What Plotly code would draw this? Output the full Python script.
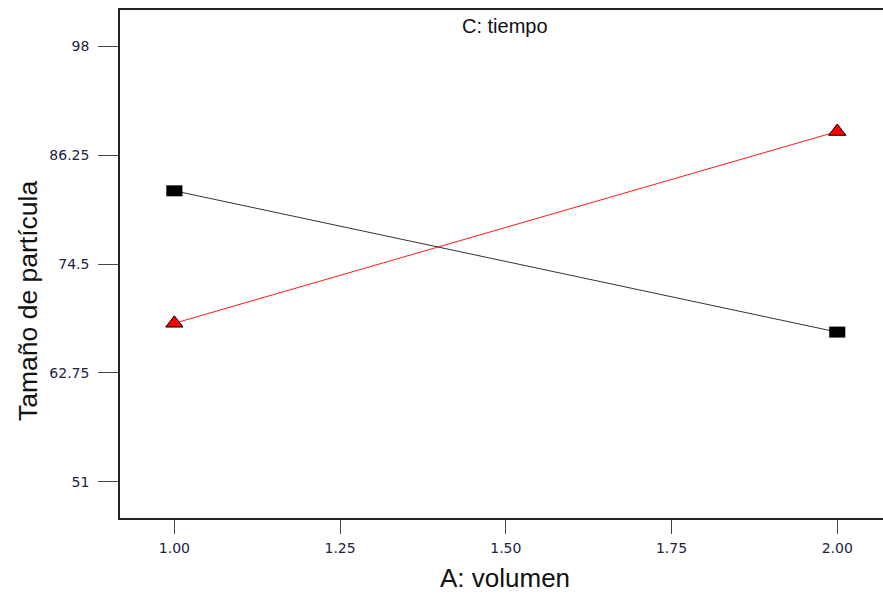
import plotly.graph_objects as go

# Interaction plot: particle size vs volume at the two time levels
volumen = [1.0, 2.0]
tiempo_bajo = [82.4, 67.15]   # black squares
tiempo_alto = [68.1, 88.8]    # red triangles

x_ticks = [1.00, 1.25, 1.50, 1.75, 2.00]
x_tick_text = ["1.00", "1.25", "1.50", "1.75", "2.00"]
y_ticks = [51, 62.75, 74.5, 86.25, 98]
y_tick_text = ["51", "62.75", "74.5", "86.25", "98"]

FONT = "Liberation Sans, Arial, sans-serif"
TICK_FONT = "DejaVu Sans, Arial, sans-serif"

# figure geometry (pixels)
W, H = 883, 594
PL, PR, PT, PB = 120, 0, 10, 76
PW, PH = W - PL - PR, H - PT - PB


def px_x(x):
    return (x - PL) / PW


def px_y(y):
    return 1 - (y - PT) / PH


fig = go.Figure()

fig.add_trace(go.Scatter(
    x=volumen, y=tiempo_bajo, mode="lines+markers",
    line=dict(color="#333333", width=1),
    marker=dict(symbol="line-ew", size=11.5, color="black",
                line=dict(color="black", width=11)),
    showlegend=False, hoverinfo="x+y",
))

fig.add_trace(go.Scatter(
    x=volumen, y=tiempo_alto, mode="lines+markers",
    line=dict(color="#ff1a1a", width=1),
    marker=dict(symbol="triangle-up", size=15, color="#ff0000",
                line=dict(color="black", width=1)),
    showlegend=False, hoverinfo="x+y",
))

fig.update_layout(
    width=W, height=H,
    margin=dict(l=PL, r=PR, t=PT, b=PB),
    plot_bgcolor="white", paper_bgcolor="white",
    font=dict(family=FONT, color="#222222"),
    xaxis=dict(
        range=[0.918, 2.069], tickvals=x_ticks, ticktext=x_tick_text,
        showgrid=False, zeroline=False,
        showline=True, linecolor="#222222", linewidth=1.5, mirror=True,
        ticks="outside", ticklen=14, tickwidth=1, tickcolor="#444444",
        tickfont=dict(size=14, family=TICK_FONT, color="#222244"),
        ticklabelstandoff=2,
    ),
    yaxis=dict(
        range=[47.08, 101.92], tickvals=y_ticks, ticktext=y_tick_text,
        showgrid=False, zeroline=False,
        showline=True, linecolor="#222222", linewidth=1.5, mirror=False,
        ticks="outside", ticklen=20, tickwidth=1, tickcolor="#444444",
        tickfont=dict(size=14, family=TICK_FONT, color="#222244"),
        ticklabelstandoff=6,
    ),
    annotations=[
        dict(text="C: tiempo", x=px_x(505), y=px_y(26), xref="paper", yref="paper",
             xanchor="center", yanchor="middle", showarrow=False,
             font=dict(size=20, family=FONT, color="#111111")),
        dict(text="A: volumen", x=px_x(505), y=px_y(578), xref="paper", yref="paper",
             xanchor="center", yanchor="middle", showarrow=False,
             font=dict(size=26, family=FONT, color="#111111")),
        dict(text="Tamaño de partícula", x=px_x(28), y=px_y(301),
             xref="paper", yref="paper", xanchor="center", yanchor="middle",
             showarrow=False, textangle=-90,
             font=dict(size=26.5, family=FONT, color="#111111")),
    ],
)

fig.write_html("out.html")
